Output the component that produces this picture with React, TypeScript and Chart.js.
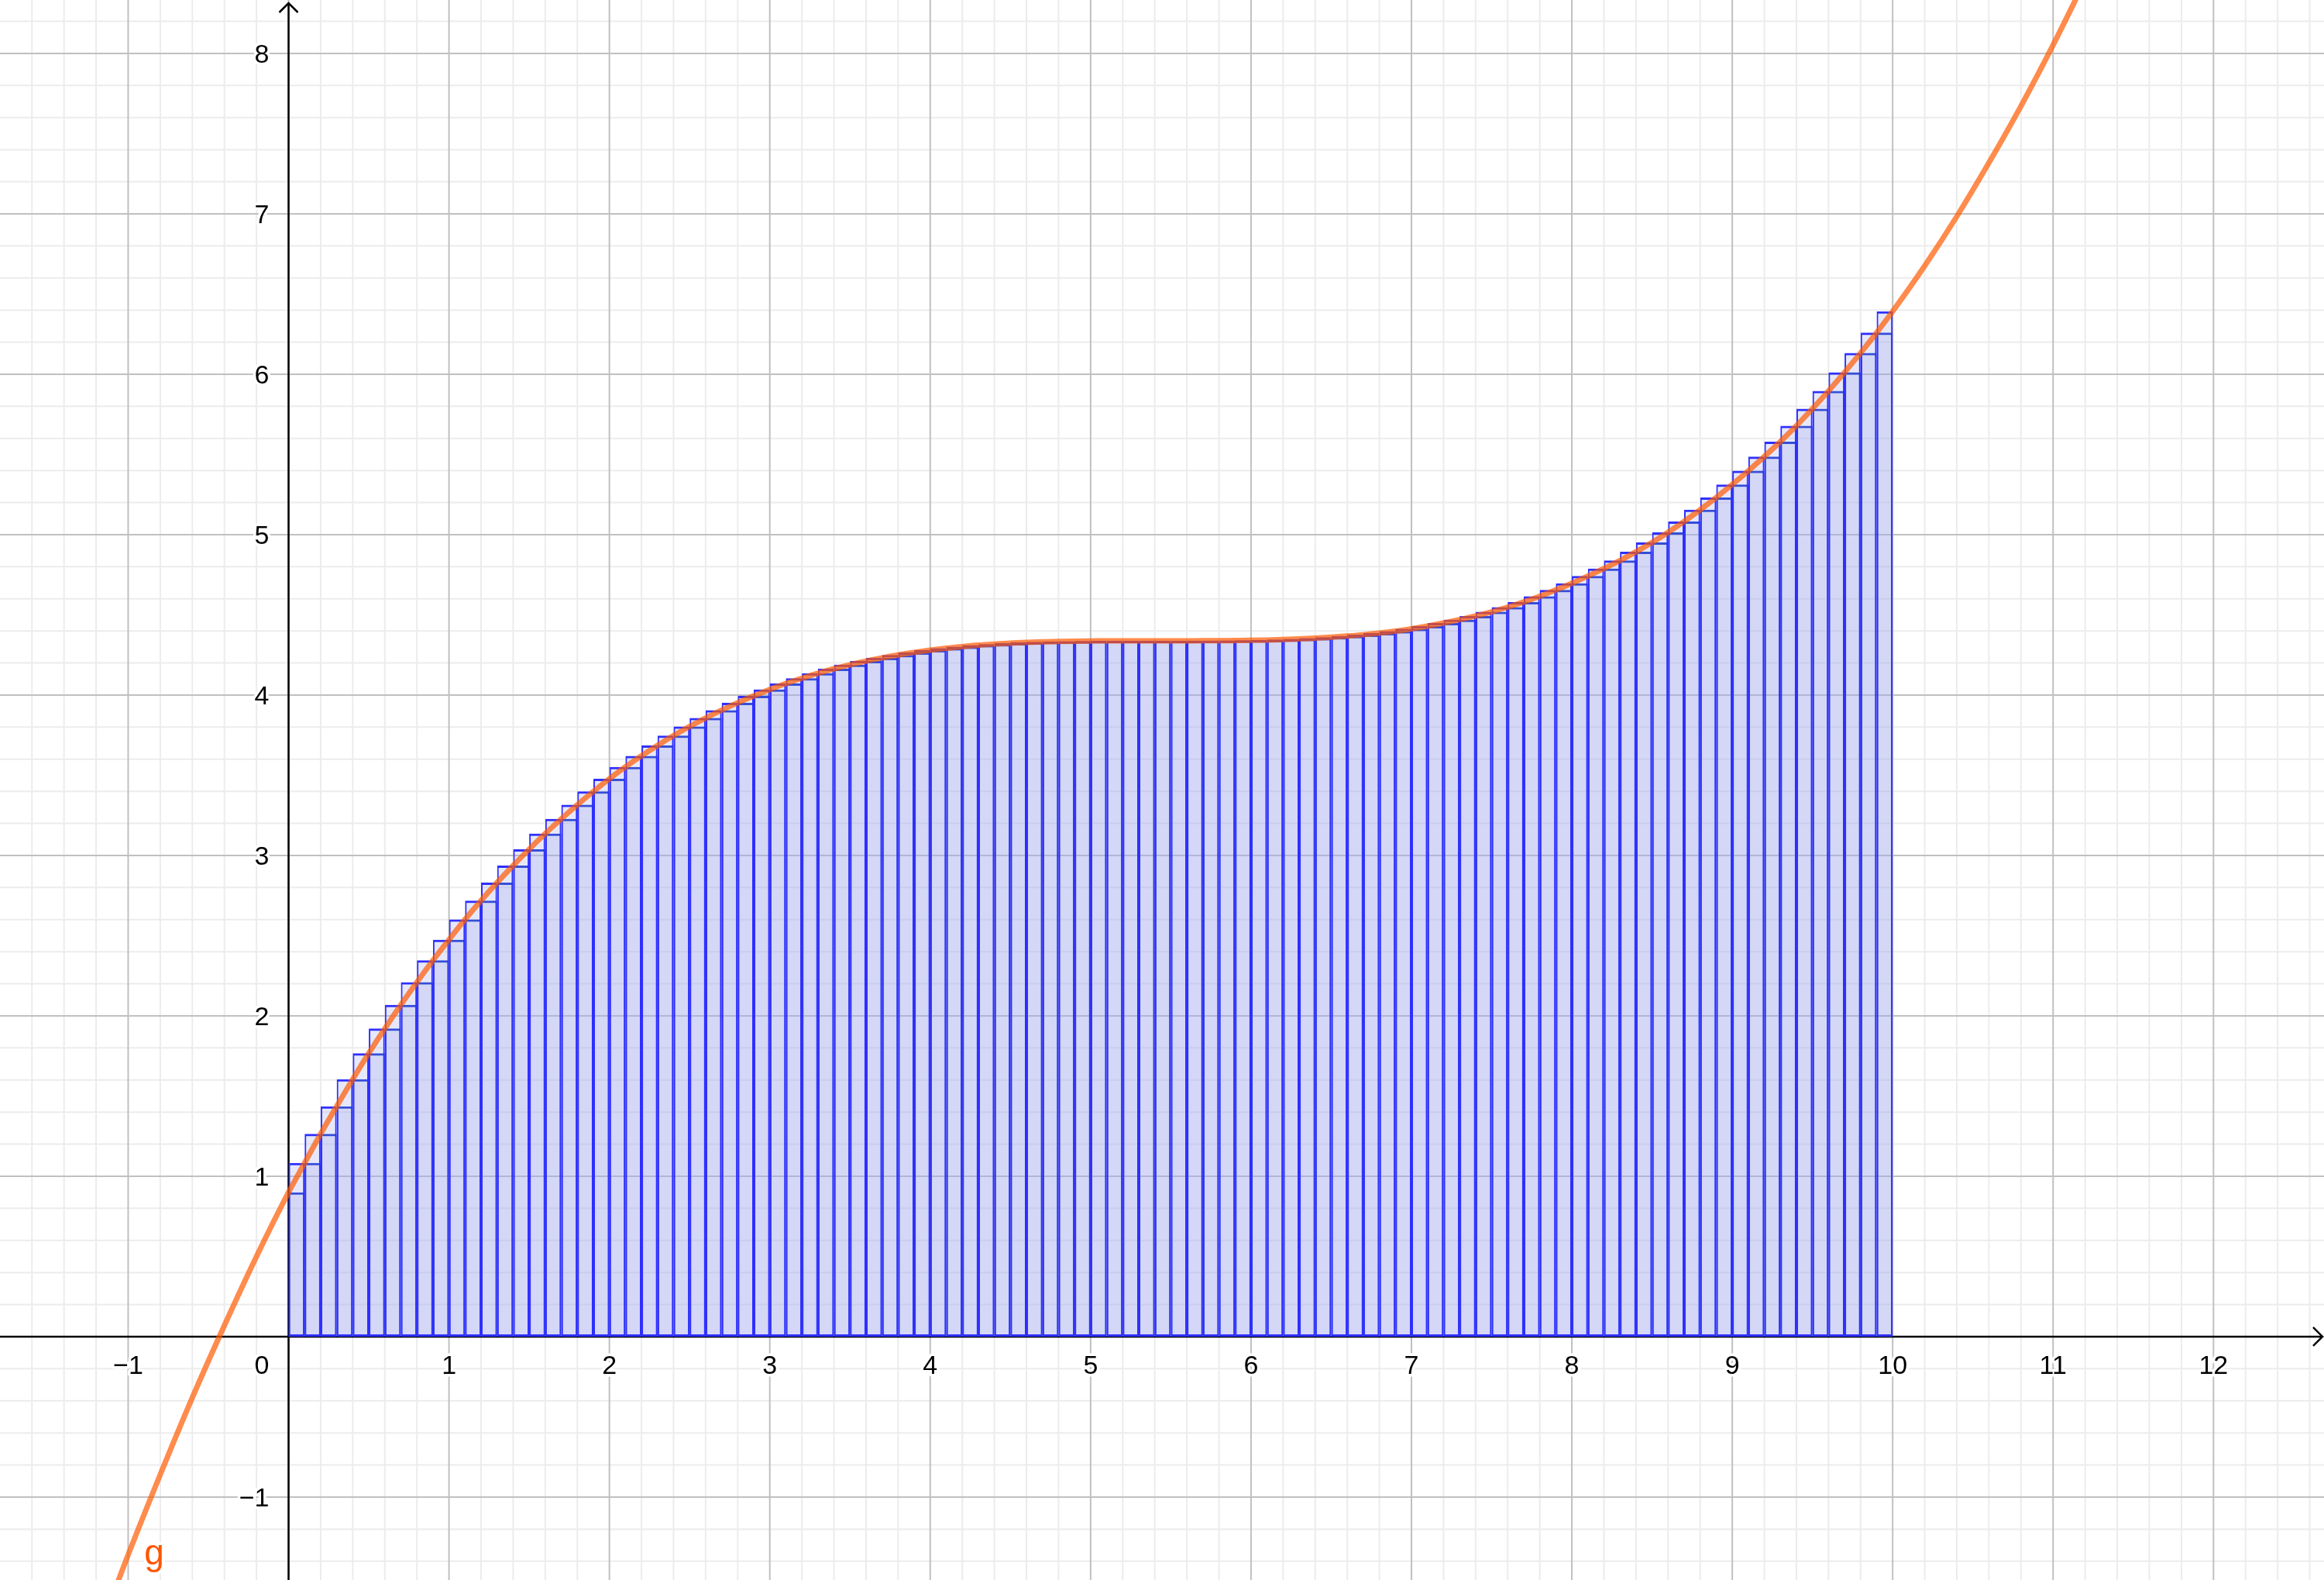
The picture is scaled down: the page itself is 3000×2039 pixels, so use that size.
import React, { useEffect, useRef } from 'react';
import { Chart, registerables } from 'chart.js';

Chart.register(...registerables);

// Sample points of g on [0, 10] (step 0.1)
const sampleX = [
  0, 0.1, 0.2, 0.3, 0.4, 0.5, 0.6, 0.7, 0.8, 0.9,
  1, 1.1, 1.2, 1.3, 1.4, 1.5, 1.6, 1.7, 1.8, 1.9,
  2, 2.1, 2.2, 2.3, 2.4, 2.5, 2.6, 2.7, 2.8, 2.9,
  3, 3.1, 3.2, 3.3, 3.4, 3.5, 3.6, 3.7, 3.8, 3.9,
  4, 4.1, 4.2, 4.3, 4.4, 4.5, 4.6, 4.7, 4.8, 4.9,
  5, 5.1, 5.2, 5.3, 5.4, 5.5, 5.6, 5.7, 5.8, 5.9,
  6, 6.1, 6.2, 6.3, 6.4, 6.5, 6.6, 6.7, 6.8, 6.9,
  7, 7.1, 7.2, 7.3, 7.4, 7.5, 7.6, 7.7, 7.8, 7.9,
  8, 8.1, 8.2, 8.3, 8.4, 8.5, 8.6, 8.7, 8.8, 8.9,
  9, 9.1, 9.2, 9.3, 9.4, 9.5, 9.6, 9.7, 9.8, 9.9,
  10,
];
const sampleY = [
  0.900, 1.083, 1.264, 1.436, 1.605, 1.767, 1.921, 2.069, 2.210, 2.346,
  2.475, 2.601, 2.719, 2.831, 2.937, 3.039, 3.136, 3.228, 3.316, 3.399,
  3.478, 3.552, 3.621, 3.686, 3.747, 3.804, 3.857, 3.906, 3.952, 3.995,
  4.035, 4.072, 4.105, 4.136, 4.164, 4.189, 4.212, 4.232, 4.250, 4.266,
  4.280, 4.292, 4.302, 4.311, 4.318, 4.324, 4.328, 4.332, 4.334, 4.336,
  4.337, 4.338, 4.338, 4.338, 4.338, 4.338, 4.338, 4.339, 4.339, 4.340,
  4.341, 4.343, 4.346, 4.350, 4.355, 4.361, 4.368, 4.376, 4.386, 4.398,
  4.413, 4.430, 4.449, 4.470, 4.493, 4.519, 4.548, 4.580, 4.616, 4.655,
  4.697, 4.742, 4.789, 4.839, 4.893, 4.951, 5.014, 5.082, 5.155, 5.232,
  5.313, 5.398, 5.487, 5.580, 5.679, 5.785, 5.896, 6.012, 6.133, 6.259,
  6.392,
];
// Curve points outside [0, 10]
const leftX = [-1.2, -1.0, -0.8, -0.6, -0.4, -0.2];
const leftY = [-1.89, -1.36, -0.86, -0.38, 0.07, 0.5];
const rightX = [10.2, 10.4, 10.6, 10.8, 11.0, 11.2];
const rightY = [6.676, 6.984, 7.318, 7.672, 8.052, 8.456];

// Axis tick labels
const xTickValues = [-1, 1, 2, 3, 4, 5, 6, 7, 8, 9, 10, 11, 12];
const xTickLabels = ['−1', '1', '2', '3', '4', '5', '6', '7', '8', '9', '10', '11', '12'];
const yTickValues = [-1, 1, 2, 3, 4, 5, 6, 7, 8];
const yTickLabels = ['−1', '1', '2', '3', '4', '5', '6', '7', '8'];
const originLabel = '0';
const curveName = 'g';

const X_MIN = -1.799;
const X_MAX = 12.689;
const Y_MIN = -1.517;
const Y_MAX = 8.333;

const FONT = '"Liberation Sans", Arial, sans-serif';

const backdropPlugin = {
  id: 'ggbBackdrop',
  beforeDatasetsDraw(chart: any) {
    const { ctx, chartArea: a } = chart;
    const xs = chart.scales.x;
    const ys = chart.scales.y;
    ctx.save();
    const vline = (v: number, color: string, w: number) => {
      const p = xs.getPixelForValue(v);
      ctx.beginPath();
      ctx.strokeStyle = color;
      ctx.lineWidth = w;
      ctx.moveTo(p, a.top);
      ctx.lineTo(p, a.bottom);
      ctx.stroke();
    };
    const hline = (v: number, color: string, w: number) => {
      const p = ys.getPixelForValue(v);
      ctx.beginPath();
      ctx.strokeStyle = color;
      ctx.lineWidth = w;
      ctx.moveTo(a.left, p);
      ctx.lineTo(a.right, p);
      ctx.stroke();
    };
    const minor = '#ececec';
    const major = '#c0c0c0';
    for (let k = Math.ceil(X_MIN * 5); k <= Math.floor(X_MAX * 5); k++) if (k % 5 !== 0) vline(k / 5, minor, 2);
    for (let k = Math.ceil(Y_MIN * 5); k <= Math.floor(Y_MAX * 5); k++) if (k % 5 !== 0) hline(k / 5, minor, 2);
    for (let k = Math.ceil(X_MIN); k <= Math.floor(X_MAX); k++) vline(k, major, 2);
    for (let k = Math.ceil(Y_MIN); k <= Math.floor(Y_MAX); k++) hline(k, major, 2);

    const x0 = xs.getPixelForValue(0);
    const y0 = ys.getPixelForValue(0);
    ctx.strokeStyle = '#000';
    ctx.lineWidth = 2.5;
    ctx.lineJoin = 'miter';
    ctx.beginPath();
    ctx.moveTo(a.left, y0);
    ctx.lineTo(a.right - 2, y0);
    ctx.stroke();
    ctx.beginPath();
    ctx.moveTo(x0, a.bottom);
    ctx.lineTo(x0, a.top + 4);
    ctx.stroke();
    ctx.beginPath();
    ctx.moveTo(a.right - 14, y0 - 12);
    ctx.lineTo(a.right - 2, y0);
    ctx.lineTo(a.right - 14, y0 + 12);
    ctx.stroke();
    ctx.beginPath();
    ctx.moveTo(x0 - 12, a.top + 16);
    ctx.lineTo(x0, a.top + 4);
    ctx.lineTo(x0 + 12, a.top + 16);
    ctx.stroke();

    ctx.font = '34px ' + FONT;
    ctx.textBaseline = 'alphabetic';
    const label = (t: string, px: number, py: number, align: string) => {
      ctx.textAlign = align;
      ctx.lineWidth = 7;
      ctx.lineJoin = 'round';
      ctx.strokeStyle = '#ffffff';
      ctx.strokeText(t, px, py);
      ctx.fillStyle = '#000000';
      ctx.fillText(t, px, py);
    };
    xTickValues.forEach((v, i) => label(xTickLabels[i], xs.getPixelForValue(v), y0 + 48, 'center'));
    yTickValues.forEach((v, i) => label(yTickLabels[i], x0 - 25, ys.getPixelForValue(v) + 12.5, 'right'));
    label(originLabel, x0 - 25, y0 + 48, 'right');
    ctx.restore();
  },
  afterDatasetsDraw(chart: any) {
    const { ctx } = chart;
    const xs = chart.scales.x;
    const ys = chart.scales.y;
    ctx.save();
    ctx.font = '46px ' + FONT;
    ctx.textAlign = 'left';
    ctx.textBaseline = 'alphabetic';
    const px = xs.getPixelForValue(-0.9);
    const py = ys.getPixelForValue(-1.42);
    ctx.lineWidth = 7;
    ctx.lineJoin = 'round';
    ctx.strokeStyle = '#ffffff';
    ctx.strokeText(curveName, px, py);
    ctx.fillStyle = 'rgb(255,85,0)';
    ctx.fillText(curveName, px, py);
    ctx.restore();
  },
};

export default function App() {
  const ref = useRef<HTMLCanvasElement>(null);
  useEffect(() => {
    const barX = sampleX.slice(0, sampleX.length - 1).map((v, i) => (v + sampleX[i + 1]) / 2);
    const upper = barX.map((x, i) => ({ x, y: sampleY[i + 1] }));
    const lower = barX.map((x, i) => ({ x, y: sampleY[i] }));
    const curveXs = [...leftX, ...sampleX, ...rightX];
    const curveYs = [...leftY, ...sampleY, ...rightY];
    const curve = curveXs.map((x, i) => ({ x, y: curveYs[i] }));
    const side = { top: 3, left: 2, right: 2, bottom: 3 };

    const chart = new Chart(ref.current as HTMLCanvasElement, {
      type: 'bar',
      data: {
        datasets: [
          {
            type: 'line',
            label: curveName,
            data: curve,
            borderColor: 'rgba(255,90,0,0.7)',
            borderWidth: 7,
            pointRadius: 0,
            fill: false,
            cubicInterpolationMode: 'monotone',
            order: 0,
          } as any,
          {
            label: 'upper',
            data: upper,
            backgroundColor: 'rgba(166,173,237,0.28)',
            borderColor: '#2f2fff',
            borderWidth: side,
            borderSkipped: false,
            inflateAmount: 0,
            grouped: false,
            barPercentage: 1,
            categoryPercentage: 1,
            order: 1,
          } as any,
          {
            label: 'lower',
            data: lower,
            backgroundColor: 'rgba(166,173,237,0.28)',
            borderColor: '#0a2ad0',
            borderWidth: side,
            borderSkipped: false,
            inflateAmount: 0,
            grouped: false,
            barPercentage: 1,
            categoryPercentage: 1,
            order: 2,
          } as any,
        ],
      },
      options: {
        animation: false,
        responsive: false,
        devicePixelRatio: 1,
        events: [],
        layout: { padding: 0 },
        plugins: { legend: { display: false }, tooltip: { enabled: false }, title: { display: false } },
        scales: {
          x: { type: 'linear', min: X_MIN, max: X_MAX, offset: false, display: false },
          y: { type: 'linear', min: Y_MIN, max: Y_MAX, display: false },
        },
      } as any,
      plugins: [backdropPlugin],
    });
    return () => chart.destroy();
  }, []);

  return (
    <div style={{ position: 'fixed', left: 0, top: 0, width: 3000, height: 2039, background: '#ffffff' }}>
      <canvas ref={ref} width={3000} height={2039} style={{ display: 'block', width: 3000, height: 2039 }} />
    </div>
  );
}
